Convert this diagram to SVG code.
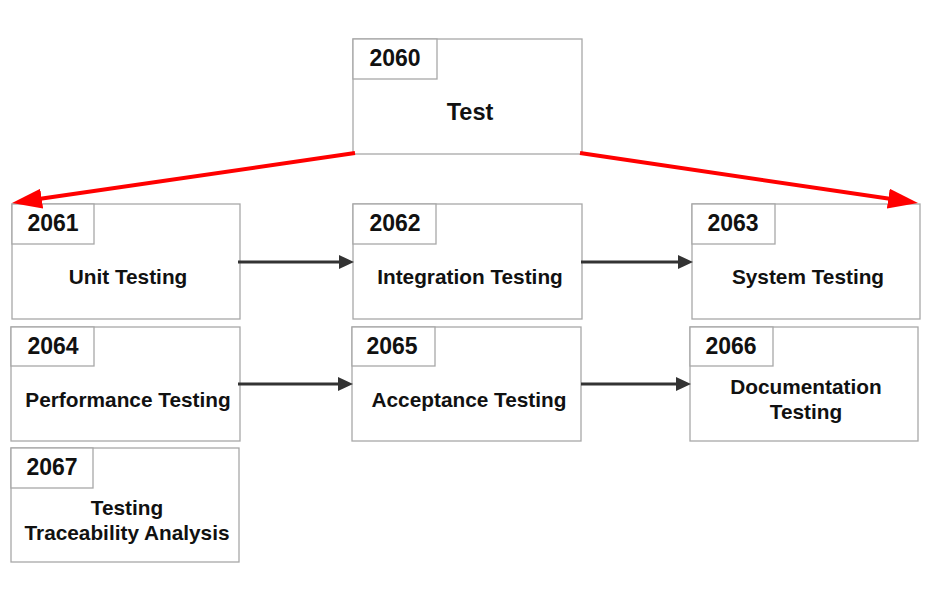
<svg xmlns="http://www.w3.org/2000/svg" width="933" height="592" viewBox="0 0 933 592">
<style>
.box{fill:#fff;stroke:#a8a8a8;stroke-width:1.3}
.num{font-family:"Liberation Sans",Arial,sans-serif;font-weight:bold;font-size:23px;fill:#111;text-anchor:middle}
.lbl{font-family:"Liberation Sans",Arial,sans-serif;font-weight:bold;font-size:20.8px;fill:#111;text-anchor:middle}
.big{font-size:23.5px}
.blk{stroke:#333;stroke-width:3;fill:none;marker-end:url(#ah)}
.red{stroke:#f00;stroke-width:4;fill:none;marker-end:url(#rh)}
</style>
<defs>
<marker id="ah" markerUnits="userSpaceOnUse" markerWidth="15" markerHeight="14" refX="7" refY="7" orient="auto"><path d="M0,0 L15,7 L0,14 z" fill="#333"/></marker>
<marker id="rh" markerUnits="userSpaceOnUse" markerWidth="30" markerHeight="20" refX="10" refY="10" orient="auto"><path d="M0,0 L30,10 L0,20 z" fill="#f00"/></marker>
</defs>
<rect width="933" height="592" fill="#fff"/>
<g id="n2060"><rect class="box" x="353" y="39" width="229" height="115"/><rect class="box" x="353" y="39" width="84" height="40"/><text class="num" x="395" y="66">2060</text><text class="lbl big" x="470" y="120">Test</text></g>
<g id="n2061"><rect class="box" x="12" y="204" width="228" height="115"/><rect class="box" x="12" y="204" width="82" height="40"/><text class="num" x="53" y="231">2061</text><text class="lbl" x="128" y="284">Unit Testing</text></g>
<g id="n2062"><rect class="box" x="353" y="204" width="229" height="115"/><rect class="box" x="353" y="204" width="83" height="40"/><text class="num" x="395" y="231">2062</text><text class="lbl" x="470" y="284">Integration Testing</text></g>
<g id="n2063"><rect class="box" x="692" y="204" width="228" height="115"/><rect class="box" x="692" y="204" width="83" height="40"/><text class="num" x="733" y="231">2063</text><text class="lbl" x="808" y="284">System Testing</text></g>
<g id="n2064"><rect class="box" x="11" y="327" width="229" height="114"/><rect class="box" x="11" y="327" width="83" height="39"/><text class="num" x="53" y="354">2064</text><text class="lbl" x="128" y="407">Performance Testing</text></g>
<g id="n2065"><rect class="box" x="352" y="327" width="229" height="114"/><rect class="box" x="352" y="327" width="83" height="39"/><text class="num" x="392" y="354">2065</text><text class="lbl" x="469" y="407">Acceptance Testing</text></g>
<g id="n2066"><rect class="box" x="690" y="327" width="228" height="114"/><rect class="box" x="690" y="327" width="83" height="39"/><text class="num" x="731" y="354">2066</text><text class="lbl" x="806" y="394">Documentation</text><text class="lbl" x="806" y="419">Testing</text></g>
<g id="n2067"><rect class="box" x="11" y="448" width="228" height="114"/><rect class="box" x="11" y="448" width="82" height="40"/><text class="num" x="52" y="475">2067</text><text class="lbl" x="127" y="515">Testing</text><text class="lbl" x="127" y="540">Traceability Analysis</text></g>
<g id="connectors">
<line class="red" x1="355" y1="153" x2="31.8" y2="200.1"/>
<line class="red" x1="580" y1="153" x2="898.2" y2="200.1"/>
<line class="blk" x1="238" y1="262" x2="346" y2="262"/>
<line class="blk" x1="581" y1="262" x2="685" y2="262"/>
<line class="blk" x1="238" y1="384" x2="345" y2="384"/>
<line class="blk" x1="581" y1="384" x2="683" y2="384"/>
</g>
</svg>
